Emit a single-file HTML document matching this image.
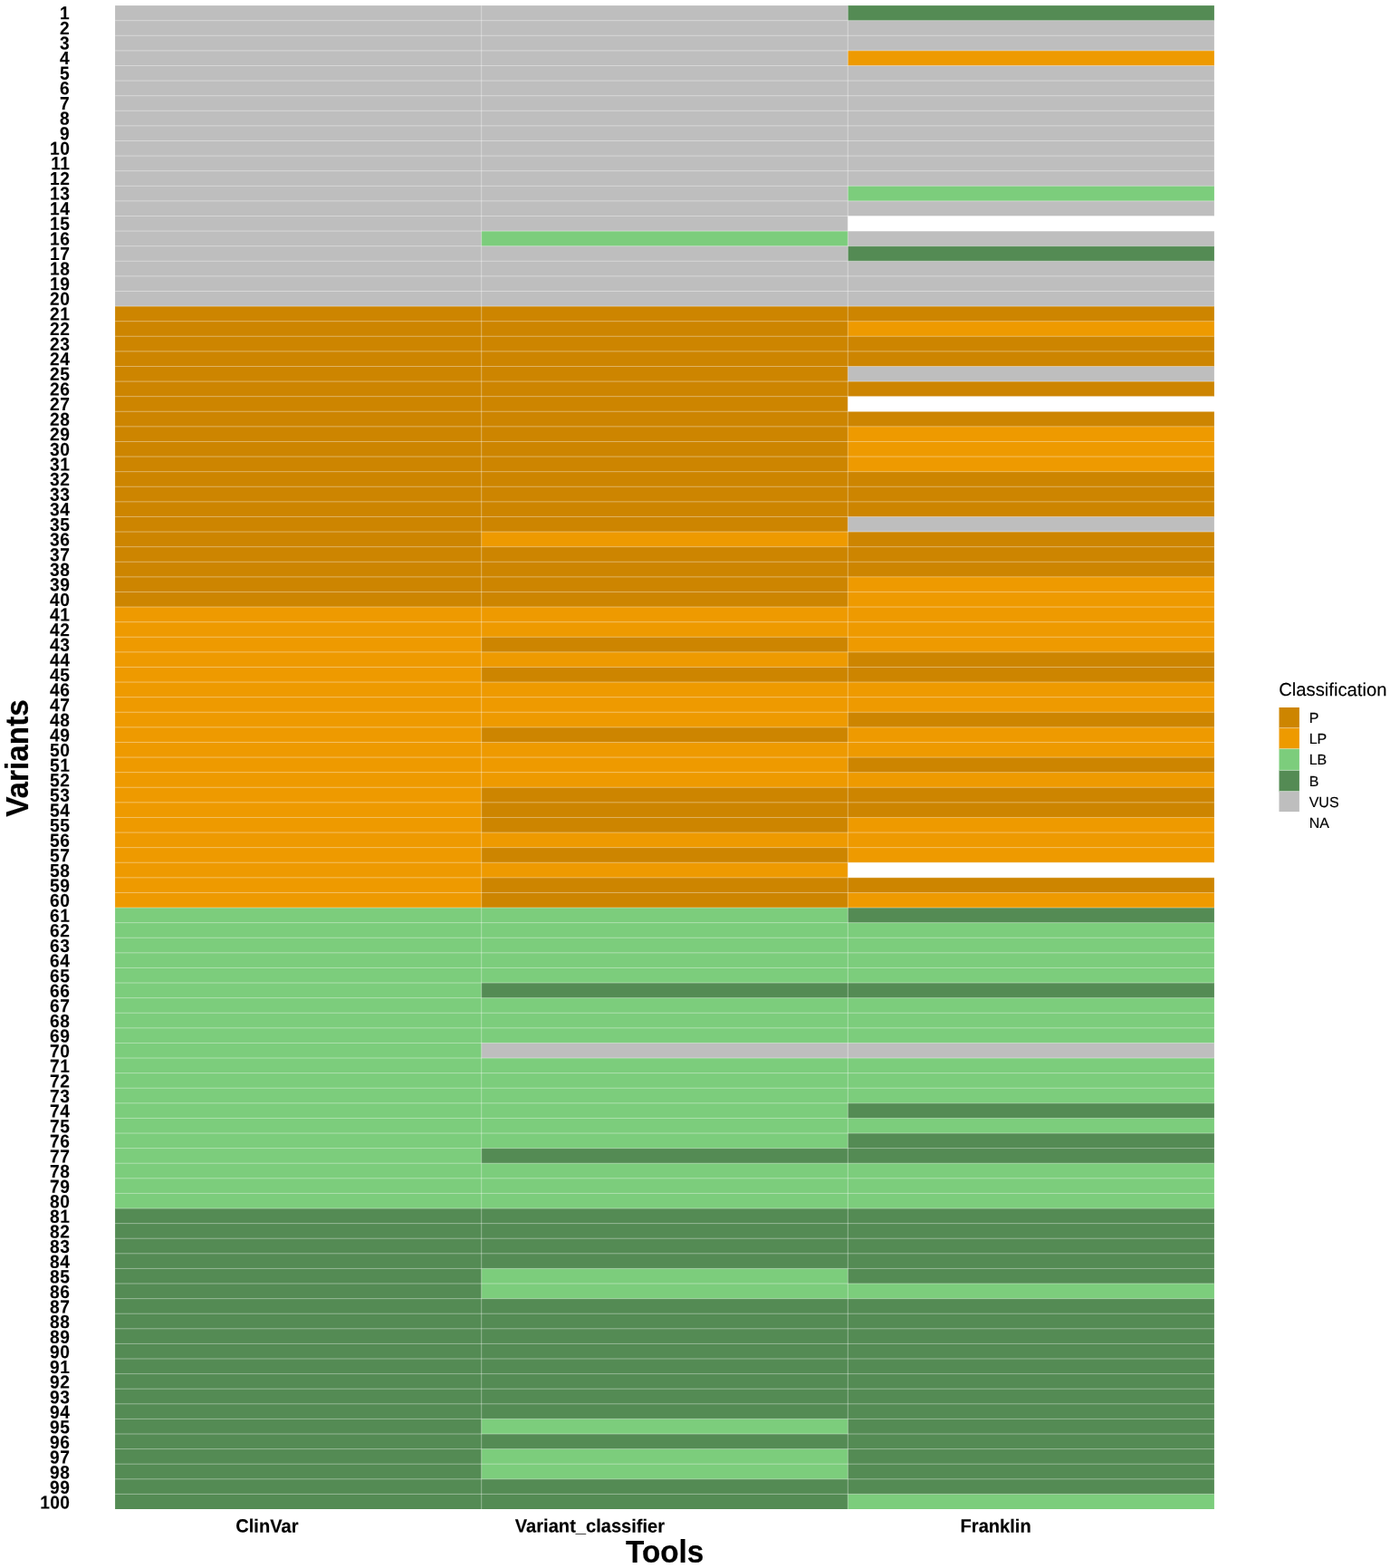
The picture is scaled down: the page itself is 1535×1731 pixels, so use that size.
<!DOCTYPE html>
<html lang="en">
<head>
<meta charset="utf-8">
<title>Variant classification heatmap</title>
<style>
html,body{margin:0;padding:0;background:#fff;}
body{width:1535px;height:1731px;overflow:hidden;}
svg{display:block;font-family:"Liberation Sans",sans-serif;}
.yl{font-size:20px;font-weight:bold;text-anchor:end;fill:#000;stroke:#000;stroke-width:.1px;}
.xl{font-size:20.1px;font-weight:bold;text-anchor:end;fill:#000;stroke:#000;stroke-width:.15px;}
.at{font-size:33.3px;font-weight:bold;text-anchor:middle;fill:#000;stroke:#000;stroke-width:.2px;}
.lt{font-size:20.1px;fill:#000;stroke:#000;stroke-width:.15px;}
.ll{font-size:16px;fill:#000;stroke:#000;stroke-width:.15px;}
.g{stroke:#fff;stroke-width:.4;fill:none;}
</style>
</head>
<body>
<svg role="img" aria-label="Heatmap of variant classification by tool" width="1535" height="1731" viewBox="0 0 1535 1731">
<rect x="0" y="0" width="1535" height="1731" fill="#fff"/>
<g id="tiles">
<rect x="127.1" y="6.1" width="405.3" height="332.68" fill="#BEBEBE"/>
<rect x="127.1" y="338.08" width="405.3" height="332.68" fill="#CD8500"/>
<rect x="127.1" y="670.06" width="405.3" height="332.68" fill="#EE9A00"/>
<rect x="127.1" y="1002.04" width="405.3" height="332.68" fill="#7CCD7C"/>
<rect x="127.1" y="1334.02" width="405.3" height="331.98" fill="#548B54"/>
<rect x="531.7" y="6.1" width="405.3" height="249.69" fill="#BEBEBE"/>
<rect x="531.7" y="255.09" width="405.3" height="17.3" fill="#7CCD7C"/>
<rect x="531.7" y="271.68" width="405.3" height="67.1" fill="#BEBEBE"/>
<rect x="531.7" y="338.08" width="405.3" height="249.69" fill="#CD8500"/>
<rect x="531.7" y="587.07" width="405.3" height="17.3" fill="#EE9A00"/>
<rect x="531.7" y="603.66" width="405.3" height="67.1" fill="#CD8500"/>
<rect x="531.7" y="670.06" width="405.3" height="33.9" fill="#EE9A00"/>
<rect x="531.7" y="703.26" width="405.3" height="17.3" fill="#CD8500"/>
<rect x="531.7" y="719.86" width="405.3" height="17.3" fill="#EE9A00"/>
<rect x="531.7" y="736.46" width="405.3" height="17.3" fill="#CD8500"/>
<rect x="531.7" y="753.06" width="405.3" height="50.5" fill="#EE9A00"/>
<rect x="531.7" y="802.85" width="405.3" height="17.3" fill="#CD8500"/>
<rect x="531.7" y="819.45" width="405.3" height="50.5" fill="#EE9A00"/>
<rect x="531.7" y="869.25" width="405.3" height="50.5" fill="#CD8500"/>
<rect x="531.7" y="919.05" width="405.3" height="17.3" fill="#EE9A00"/>
<rect x="531.7" y="935.64" width="405.3" height="17.3" fill="#CD8500"/>
<rect x="531.7" y="952.24" width="405.3" height="17.3" fill="#EE9A00"/>
<rect x="531.7" y="968.84" width="405.3" height="33.9" fill="#CD8500"/>
<rect x="531.7" y="1002.04" width="405.3" height="83.7" fill="#7CCD7C"/>
<rect x="531.7" y="1085.03" width="405.3" height="17.3" fill="#548B54"/>
<rect x="531.7" y="1101.63" width="405.3" height="50.5" fill="#7CCD7C"/>
<rect x="531.7" y="1151.43" width="405.3" height="17.3" fill="#BEBEBE"/>
<rect x="531.7" y="1168.03" width="405.3" height="100.29" fill="#7CCD7C"/>
<rect x="531.7" y="1267.62" width="405.3" height="17.3" fill="#548B54"/>
<rect x="531.7" y="1284.22" width="405.3" height="50.5" fill="#7CCD7C"/>
<rect x="531.7" y="1334.02" width="405.3" height="67.1" fill="#548B54"/>
<rect x="531.7" y="1400.42" width="405.3" height="33.9" fill="#7CCD7C"/>
<rect x="531.7" y="1433.61" width="405.3" height="133.49" fill="#548B54"/>
<rect x="531.7" y="1566.41" width="405.3" height="17.3" fill="#7CCD7C"/>
<rect x="531.7" y="1583" width="405.3" height="17.3" fill="#548B54"/>
<rect x="531.7" y="1599.6" width="405.3" height="33.9" fill="#7CCD7C"/>
<rect x="531.7" y="1632.8" width="405.3" height="33.2" fill="#548B54"/>
<rect x="936.3" y="6.1" width="404.6" height="17.3" fill="#548B54"/>
<rect x="936.3" y="22.7" width="404.6" height="33.9" fill="#BEBEBE"/>
<rect x="936.3" y="55.9" width="404.6" height="17.3" fill="#EE9A00"/>
<rect x="936.3" y="72.5" width="404.6" height="133.49" fill="#BEBEBE"/>
<rect x="936.3" y="205.29" width="404.6" height="17.3" fill="#7CCD7C"/>
<rect x="936.3" y="221.89" width="404.6" height="17.3" fill="#BEBEBE"/>
<rect x="936.3" y="238.49" width="404.6" height="16.6" fill="#FFFFFF"/>
<rect x="936.3" y="255.09" width="404.6" height="17.3" fill="#BEBEBE"/>
<rect x="936.3" y="271.68" width="404.6" height="17.3" fill="#548B54"/>
<rect x="936.3" y="288.28" width="404.6" height="50.5" fill="#BEBEBE"/>
<rect x="936.3" y="338.08" width="404.6" height="17.3" fill="#CD8500"/>
<rect x="936.3" y="354.68" width="404.6" height="17.3" fill="#EE9A00"/>
<rect x="936.3" y="371.28" width="404.6" height="33.9" fill="#CD8500"/>
<rect x="936.3" y="404.48" width="404.6" height="17.3" fill="#BEBEBE"/>
<rect x="936.3" y="421.08" width="404.6" height="17.3" fill="#CD8500"/>
<rect x="936.3" y="437.67" width="404.6" height="16.6" fill="#FFFFFF"/>
<rect x="936.3" y="454.27" width="404.6" height="17.3" fill="#CD8500"/>
<rect x="936.3" y="470.87" width="404.6" height="50.5" fill="#EE9A00"/>
<rect x="936.3" y="520.67" width="404.6" height="50.5" fill="#CD8500"/>
<rect x="936.3" y="570.47" width="404.6" height="17.3" fill="#BEBEBE"/>
<rect x="936.3" y="587.07" width="404.6" height="50.5" fill="#CD8500"/>
<rect x="936.3" y="636.86" width="404.6" height="83.7" fill="#EE9A00"/>
<rect x="936.3" y="719.86" width="404.6" height="33.9" fill="#CD8500"/>
<rect x="936.3" y="753.06" width="404.6" height="33.9" fill="#EE9A00"/>
<rect x="936.3" y="786.25" width="404.6" height="17.3" fill="#CD8500"/>
<rect x="936.3" y="802.85" width="404.6" height="33.9" fill="#EE9A00"/>
<rect x="936.3" y="836.05" width="404.6" height="17.3" fill="#CD8500"/>
<rect x="936.3" y="852.65" width="404.6" height="17.3" fill="#EE9A00"/>
<rect x="936.3" y="869.25" width="404.6" height="33.9" fill="#CD8500"/>
<rect x="936.3" y="902.45" width="404.6" height="50.5" fill="#EE9A00"/>
<rect x="936.3" y="952.24" width="404.6" height="16.6" fill="#FFFFFF"/>
<rect x="936.3" y="968.84" width="404.6" height="17.3" fill="#CD8500"/>
<rect x="936.3" y="985.44" width="404.6" height="17.3" fill="#EE9A00"/>
<rect x="936.3" y="1002.04" width="404.6" height="17.3" fill="#548B54"/>
<rect x="936.3" y="1018.64" width="404.6" height="67.1" fill="#7CCD7C"/>
<rect x="936.3" y="1085.03" width="404.6" height="17.3" fill="#548B54"/>
<rect x="936.3" y="1101.63" width="404.6" height="50.5" fill="#7CCD7C"/>
<rect x="936.3" y="1151.43" width="404.6" height="17.3" fill="#BEBEBE"/>
<rect x="936.3" y="1168.03" width="404.6" height="50.5" fill="#7CCD7C"/>
<rect x="936.3" y="1217.83" width="404.6" height="17.3" fill="#548B54"/>
<rect x="936.3" y="1234.43" width="404.6" height="17.3" fill="#7CCD7C"/>
<rect x="936.3" y="1251.02" width="404.6" height="33.9" fill="#548B54"/>
<rect x="936.3" y="1284.22" width="404.6" height="50.5" fill="#7CCD7C"/>
<rect x="936.3" y="1334.02" width="404.6" height="83.7" fill="#548B54"/>
<rect x="936.3" y="1417.01" width="404.6" height="17.3" fill="#7CCD7C"/>
<rect x="936.3" y="1433.61" width="404.6" height="216.49" fill="#548B54"/>
<rect x="936.3" y="1649.4" width="404.6" height="16.6" fill="#7CCD7C"/>
</g>
<path class="g" d="M127.1 22.7H1340.9M127.1 39.3H1340.9M127.1 55.9H1340.9M127.1 72.5H1340.9M127.1 89.09H1340.9M127.1 105.69H1340.9M127.1 122.29H1340.9M127.1 138.89H1340.9M127.1 155.49H1340.9M127.1 172.09H1340.9M127.1 188.69H1340.9M127.1 205.29H1340.9M127.1 221.89H1340.9M127.1 238.49H1340.9M127.1 255.09H1340.9M127.1 271.68H1340.9M127.1 288.28H1340.9M127.1 304.88H1340.9M127.1 321.48H1340.9M127.1 338.08H1340.9M127.1 354.68H1340.9M127.1 371.28H1340.9M127.1 387.88H1340.9M127.1 404.48H1340.9M127.1 421.08H1340.9M127.1 437.67H1340.9M127.1 454.27H1340.9M127.1 470.87H1340.9M127.1 487.47H1340.9M127.1 504.07H1340.9M127.1 520.67H1340.9M127.1 537.27H1340.9M127.1 553.87H1340.9M127.1 570.47H1340.9M127.1 587.07H1340.9M127.1 603.66H1340.9M127.1 620.26H1340.9M127.1 636.86H1340.9M127.1 653.46H1340.9M127.1 670.06H1340.9M127.1 686.66H1340.9M127.1 703.26H1340.9M127.1 719.86H1340.9M127.1 736.46H1340.9M127.1 753.06H1340.9M127.1 769.65H1340.9M127.1 786.25H1340.9M127.1 802.85H1340.9M127.1 819.45H1340.9M127.1 836.05H1340.9M127.1 852.65H1340.9M127.1 869.25H1340.9M127.1 885.85H1340.9M127.1 902.45H1340.9M127.1 919.05H1340.9M127.1 935.64H1340.9M127.1 952.24H1340.9M127.1 968.84H1340.9M127.1 985.44H1340.9M127.1 1002.04H1340.9M127.1 1018.64H1340.9M127.1 1035.24H1340.9M127.1 1051.84H1340.9M127.1 1068.44H1340.9M127.1 1085.03H1340.9M127.1 1101.63H1340.9M127.1 1118.23H1340.9M127.1 1134.83H1340.9M127.1 1151.43H1340.9M127.1 1168.03H1340.9M127.1 1184.63H1340.9M127.1 1201.23H1340.9M127.1 1217.83H1340.9M127.1 1234.43H1340.9M127.1 1251.02H1340.9M127.1 1267.62H1340.9M127.1 1284.22H1340.9M127.1 1300.82H1340.9M127.1 1317.42H1340.9M127.1 1334.02H1340.9M127.1 1350.62H1340.9M127.1 1367.22H1340.9M127.1 1383.82H1340.9M127.1 1400.42H1340.9M127.1 1417.01H1340.9M127.1 1433.61H1340.9M127.1 1450.21H1340.9M127.1 1466.81H1340.9M127.1 1483.41H1340.9M127.1 1500.01H1340.9M127.1 1516.61H1340.9M127.1 1533.21H1340.9M127.1 1549.81H1340.9M127.1 1566.41H1340.9M127.1 1583H1340.9M127.1 1599.6H1340.9M127.1 1616.2H1340.9M127.1 1632.8H1340.9M127.1 1649.4H1340.9M531.7 6.1V1666M936.3 6.1V1666"/>
<g class="yl" style="letter-spacing:0.463px">
<text transform="matrix(0.96 .0005 0 1.01 77.17 21.29)">1</text>
<text transform="matrix(0.96 .0005 0 1.01 77.17 37.9)">2</text>
<text transform="matrix(0.96 .0005 0 1.01 77.17 54.51)">3</text>
<text transform="matrix(0.96 .0005 0 1.01 77.17 71.12)">4</text>
<text transform="matrix(0.96 .0005 0 1.01 77.17 87.72)">5</text>
<text transform="matrix(0.96 .0005 0 1.01 77.17 104.33)">6</text>
<text transform="matrix(0.96 .0005 0 1.01 77.17 120.94)">7</text>
<text transform="matrix(0.96 .0005 0 1.01 77.17 137.54)">8</text>
<text transform="matrix(0.96 .0005 0 1.01 77.17 154.15)">9</text>
<text transform="matrix(0.96 .0005 0 1.01 77.32 170.76)">10</text>
<text transform="matrix(0.96 .0005 0 1.01 77.32 187.37)">11</text>
<text transform="matrix(0.96 .0005 0 1.01 77.32 203.97)">12</text>
<text transform="matrix(0.96 .0005 0 1.01 77.32 220.58)">13</text>
<text transform="matrix(0.96 .0005 0 1.01 77.32 237.19)">14</text>
<text transform="matrix(0.96 .0005 0 1.01 77.32 253.79)">15</text>
<text transform="matrix(0.96 .0005 0 1.01 77.32 270.4)">16</text>
<text transform="matrix(0.96 .0005 0 1.01 77.32 287.01)">17</text>
<text transform="matrix(0.96 .0005 0 1.01 77.32 303.62)">18</text>
<text transform="matrix(0.96 .0005 0 1.01 77.32 320.22)">19</text>
<text transform="matrix(0.96 .0005 0 1.01 77.32 336.83)">20</text>
<text transform="matrix(0.96 .0005 0 1.01 77.32 353.44)">21</text>
<text transform="matrix(0.96 .0005 0 1.01 77.32 370.05)">22</text>
<text transform="matrix(0.96 .0005 0 1.01 77.32 386.65)">23</text>
<text transform="matrix(0.96 .0005 0 1.01 77.32 403.26)">24</text>
<text transform="matrix(0.96 .0005 0 1.01 77.32 419.87)">25</text>
<text transform="matrix(0.96 .0005 0 1.01 77.32 436.47)">26</text>
<text transform="matrix(0.96 .0005 0 1.01 77.32 453.08)">27</text>
<text transform="matrix(0.96 .0005 0 1.01 77.32 469.69)">28</text>
<text transform="matrix(0.96 .0005 0 1.01 77.32 486.3)">29</text>
<text transform="matrix(0.96 .0005 0 1.01 77.32 502.9)">30</text>
<text transform="matrix(0.96 .0005 0 1.01 77.32 519.51)">31</text>
<text transform="matrix(0.96 .0005 0 1.01 77.32 536.12)">32</text>
<text transform="matrix(0.96 .0005 0 1.01 77.32 552.72)">33</text>
<text transform="matrix(0.96 .0005 0 1.01 77.32 569.33)">34</text>
<text transform="matrix(0.96 .0005 0 1.01 77.32 585.94)">35</text>
<text transform="matrix(0.96 .0005 0 1.01 77.32 602.55)">36</text>
<text transform="matrix(0.96 .0005 0 1.01 77.32 619.15)">37</text>
<text transform="matrix(0.96 .0005 0 1.01 77.32 635.76)">38</text>
<text transform="matrix(0.96 .0005 0 1.01 77.32 652.37)">39</text>
<text transform="matrix(0.96 .0005 0 1.01 77.32 668.98)">40</text>
<text transform="matrix(0.96 .0005 0 1.01 77.32 685.58)">41</text>
<text transform="matrix(0.96 .0005 0 1.01 77.32 702.19)">42</text>
<text transform="matrix(0.96 .0005 0 1.01 77.32 718.8)">43</text>
<text transform="matrix(0.96 .0005 0 1.01 77.32 735.4)">44</text>
<text transform="matrix(0.96 .0005 0 1.01 77.32 752.01)">45</text>
<text transform="matrix(0.96 .0005 0 1.01 77.32 768.62)">46</text>
<text transform="matrix(0.96 .0005 0 1.01 77.32 785.23)">47</text>
<text transform="matrix(0.96 .0005 0 1.01 77.32 801.83)">48</text>
<text transform="matrix(0.96 .0005 0 1.01 77.32 818.44)">49</text>
<text transform="matrix(0.96 .0005 0 1.01 77.32 835.05)">50</text>
<text transform="matrix(0.96 .0005 0 1.01 77.32 851.65)">51</text>
<text transform="matrix(0.96 .0005 0 1.01 77.32 868.26)">52</text>
<text transform="matrix(0.96 .0005 0 1.01 77.32 884.87)">53</text>
<text transform="matrix(0.96 .0005 0 1.01 77.32 901.48)">54</text>
<text transform="matrix(0.96 .0005 0 1.01 77.32 918.08)">55</text>
<text transform="matrix(0.96 .0005 0 1.01 77.32 934.69)">56</text>
<text transform="matrix(0.96 .0005 0 1.01 77.32 951.3)">57</text>
<text transform="matrix(0.96 .0005 0 1.01 77.32 967.9)">58</text>
<text transform="matrix(0.96 .0005 0 1.01 77.32 984.51)">59</text>
<text transform="matrix(0.96 .0005 0 1.01 77.32 1001.12)">60</text>
<text transform="matrix(0.96 .0005 0 1.01 77.32 1017.73)">61</text>
<text transform="matrix(0.96 .0005 0 1.01 77.32 1034.33)">62</text>
<text transform="matrix(0.96 .0005 0 1.01 77.32 1050.94)">63</text>
<text transform="matrix(0.96 .0005 0 1.01 77.32 1067.55)">64</text>
<text transform="matrix(0.96 .0005 0 1.01 77.32 1084.15)">65</text>
<text transform="matrix(0.96 .0005 0 1.01 77.32 1100.76)">66</text>
<text transform="matrix(0.96 .0005 0 1.01 77.32 1117.37)">67</text>
<text transform="matrix(0.96 .0005 0 1.01 77.32 1133.98)">68</text>
<text transform="matrix(0.96 .0005 0 1.01 77.32 1150.58)">69</text>
<text transform="matrix(0.96 .0005 0 1.01 77.32 1167.19)">70</text>
<text transform="matrix(0.96 .0005 0 1.01 77.32 1183.8)">71</text>
<text transform="matrix(0.96 .0005 0 1.01 77.32 1200.41)">72</text>
<text transform="matrix(0.96 .0005 0 1.01 77.32 1217.01)">73</text>
<text transform="matrix(0.96 .0005 0 1.01 77.32 1233.62)">74</text>
<text transform="matrix(0.96 .0005 0 1.01 77.32 1250.23)">75</text>
<text transform="matrix(0.96 .0005 0 1.01 77.32 1266.83)">76</text>
<text transform="matrix(0.96 .0005 0 1.01 77.32 1283.44)">77</text>
<text transform="matrix(0.96 .0005 0 1.01 77.32 1300.05)">78</text>
<text transform="matrix(0.96 .0005 0 1.01 77.32 1316.66)">79</text>
<text transform="matrix(0.96 .0005 0 1.01 77.32 1333.26)">80</text>
<text transform="matrix(0.96 .0005 0 1.01 77.32 1349.87)">81</text>
<text transform="matrix(0.96 .0005 0 1.01 77.32 1366.48)">82</text>
<text transform="matrix(0.96 .0005 0 1.01 77.32 1383.08)">83</text>
<text transform="matrix(0.96 .0005 0 1.01 77.32 1399.69)">84</text>
<text transform="matrix(0.96 .0005 0 1.01 77.32 1416.3)">85</text>
<text transform="matrix(0.96 .0005 0 1.01 77.32 1432.91)">86</text>
<text transform="matrix(0.96 .0005 0 1.01 77.32 1449.51)">87</text>
<text transform="matrix(0.96 .0005 0 1.01 77.32 1466.12)">88</text>
<text transform="matrix(0.96 .0005 0 1.01 77.32 1482.73)">89</text>
<text transform="matrix(0.96 .0005 0 1.01 77.32 1499.33)">90</text>
<text transform="matrix(0.96 .0005 0 1.01 77.32 1515.94)">91</text>
<text transform="matrix(0.96 .0005 0 1.01 77.32 1532.55)">92</text>
<text transform="matrix(0.96 .0005 0 1.01 77.32 1549.16)">93</text>
<text transform="matrix(0.96 .0005 0 1.01 77.32 1565.76)">94</text>
<text transform="matrix(0.96 .0005 0 1.01 77.32 1582.37)">95</text>
<text transform="matrix(0.96 .0005 0 1.01 77.32 1598.98)">96</text>
<text transform="matrix(0.96 .0005 0 1.01 77.32 1615.59)">97</text>
<text transform="matrix(0.96 .0005 0 1.01 77.32 1632.19)">98</text>
<text transform="matrix(0.96 .0005 0 1.01 77.32 1648.8)">99</text>
<text transform="matrix(0.96 .0005 0 1.01 77.47 1665.41)">100</text>
</g>
<g class="xl">
<text transform="matrix(1 .0005 0 1.03 329.5 1691.65)">ClinVar</text>
<text transform="matrix(1 .0005 0 1.03 734.1 1691.65)">Variant_classifier</text>
<text transform="matrix(1 .0005 0 1.03 1138.7 1691.65)">Franklin</text>
</g>
<text class="at" transform="matrix(1 .0005 0 1.05 734.2 1725)">Tools</text>
<text class="at" transform="translate(31.2 837) rotate(-90) scale(1 1.04)">Variants</text>
<g id="legend">
<text class="lt" transform="matrix(1.008 .0005 0 1.01 1412.2 768.1)">Classification</text>
<rect x="1412.5" y="781" width="22.4" height="23.2" fill="#CD8500"/>
<rect x="1412.5" y="803.6" width="22.4" height="23.6" fill="#EE9A00"/>
<rect x="1412.5" y="826.6" width="22.4" height="24.4" fill="#7CCD7C"/>
<rect x="1412.5" y="850.4" width="22.4" height="23.8" fill="#548B54"/>
<rect x="1412.5" y="873.6" width="22.4" height="22.5" fill="#BEBEBE"/>
<path class="g" style="stroke-width:.5" d="M1412.5 803.6H1434.9M1412.5 826.6H1434.9M1412.5 850.4H1434.9M1412.5 873.6H1434.9"/>
<text class="ll" transform="matrix(1 .0005 0 1.005 1445.7 797.9)">P</text>
<text class="ll" transform="matrix(1 .0005 0 1.005 1445.7 820.9)">LP</text>
<text class="ll" transform="matrix(1 .0005 0 1.005 1445.7 843.9)">LB</text>
<text class="ll" transform="matrix(1 .0005 0 1.005 1445.7 867.9)">B</text>
<text class="ll" transform="matrix(1 .0005 0 1.005 1445.7 890.9)">VUS</text>
<text class="ll" transform="matrix(1 .0005 0 1.005 1445.7 913.9)">NA</text>
</g>
</svg>
</body>
</html>
